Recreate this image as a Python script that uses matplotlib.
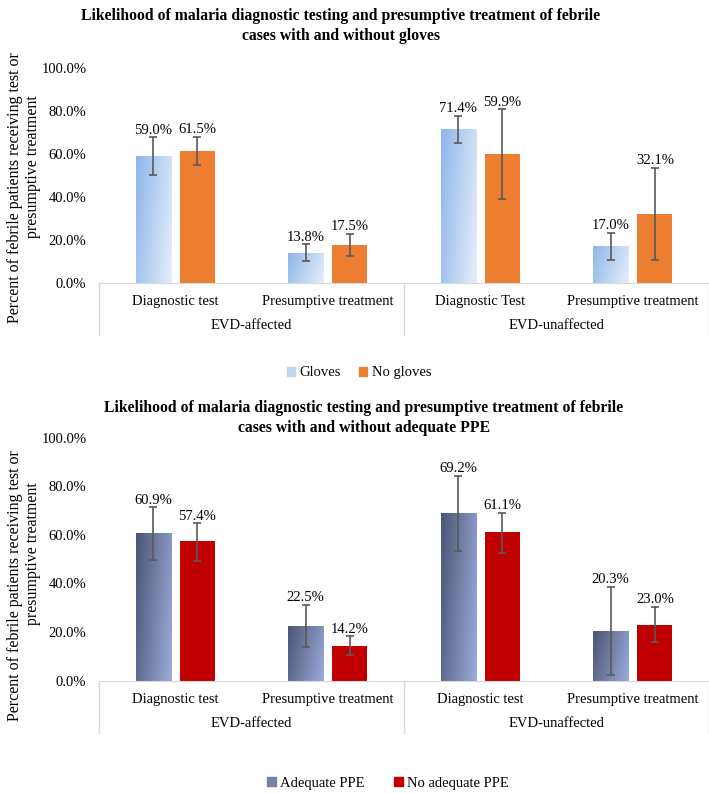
import matplotlib.pyplot as plt
import numpy as np
from matplotlib.colors import to_rgb
from matplotlib.patches import Patch

plt.rcParams['font.family'] = ['Liberation Serif', 'DejaVu Serif']

groups = ["EVD-affected", "EVD-unaffected"]
cats_top = ["Diagnostic test", "Presumptive treatment", "Diagnostic Test", "Presumptive treatment"]
cats_bot = ["Diagnostic test", "Presumptive treatment", "Diagnostic test", "Presumptive treatment"]

gloves = [59.0, 13.8, 71.4, 17.0]
gloves_lo = [50.3, 10.1, 64.9, 10.7]
gloves_hi = [67.7, 17.8, 77.8, 23.3]
no_gloves = [61.5, 17.5, 59.9, 32.1]
no_gloves_lo = [54.8, 12.4, 39.1, 10.7]
no_gloves_hi = [68.0, 22.8, 80.8, 53.5]

ppe = [60.9, 22.5, 69.2, 20.3]
ppe_lo = [49.5, 13.8, 53.5, 2.2]
ppe_hi = [71.3, 31.2, 84.3, 38.5]
no_ppe = [57.4, 14.2, 61.1, 23.0]
no_ppe_lo = [49.4, 10.5, 52.4, 15.8]
no_ppe_hi = [64.7, 18.3, 69.1, 30.4]

W, H = 709, 793
fig = plt.figure(figsize=(W / 100, H / 100), dpi=100)


def gradient(ax, bars, c1, c2):
    c1, c2 = np.array(to_rgb(c1)), np.array(to_rgb(c2))
    xx, yy = np.meshgrid(np.linspace(0, 1, 64), np.linspace(0, 1, 64))
    t = 0.75 * xx + 0.25 * (1 - yy)
    img = c1 * (1 - t[..., None]) + c2 * t[..., None]
    for b in bars:
        x0, y0, w, h = b.get_x(), b.get_y(), b.get_width(), b.get_height()
        im = ax.imshow(img, extent=[x0, x0 + w, y0, y0 + h], origin='lower',
                       aspect='auto', zorder=2)
        im.set_clip_path(b)
        b.set_facecolor('none')


def panel(ax, cats, v1, lo1, hi1, v2, lo2, hi2, c2, grad, axh):
    x = np.arange(len(cats))
    off, bw = 0.145, 0.23
    for xs, v, lo, hi, col in [(x - off, v1, lo1, hi1, None), (x + off, v2, lo2, hi2, c2)]:
        v, lo, hi = np.array(v), np.array(lo), np.array(hi)
        bars = ax.bar(xs, v, bw, color=col if col else 'white', zorder=2)
        if col is None:
            gradient(ax, bars, *grad)
        ax.errorbar(xs, v, yerr=[v - lo, hi - v], fmt='none', ecolor='#595959',
                    elinewidth=1.2, capsize=3, capthick=1.2, zorder=3)
        for xi, vi, hii in zip(xs, v, hi):
            ax.text(xi, hii + 0.3, f"{vi:.1f}%", ha='center', va='bottom', fontsize=10.5)
    ax.set_xlim(-0.5, 3.5)
    ax.set_ylim(0, 100)
    ax.set_yticks(np.arange(0, 101, 20))
    ax.set_yticklabels([f"{t:.1f}%" for t in np.arange(0, 101, 20)])
    ax.set_xticks(x)
    ax.set_xticklabels(cats)
    ax.tick_params(axis='both', length=0, labelsize=10.5)
    ax.tick_params(axis='y', pad=9)
    ax.tick_params(axis='x', pad=9)
    for s in ['top', 'right', 'left']:
        ax.spines[s].set_visible(False)
    ax.spines['bottom'].set_color('#D9D9D9')
    for i, g in enumerate(groups):
        ax.annotate(g, xy=(2 * i + 0.5, 0), xycoords=('data', 'axes fraction'),
                    xytext=(0, -43 * 0.72), textcoords='offset points',
                    ha='center', va='center', fontsize=10.5)
    for xs in [-0.5, 1.5, 3.5]:
        ax.plot([xs, xs], [0, -52 / axh], color='#D9D9D9', lw=1,
                transform=ax.get_xaxis_transform(), clip_on=False)


ax1 = fig.add_axes([99 / W, 1 - 282.6 / H, 610 / W, (282.6 - 68) / H])
panel(ax1, cats_top, gloves, gloves_lo, gloves_hi, no_gloves, no_gloves_lo, no_gloves_hi,
      '#ED7D31', ('#8DB6EA', '#E6EFFA'), 282.6 - 68)

ax2 = fig.add_axes([99 / W, 1 - 680.7 / H, 610 / W, (680.7 - 437.7) / H])
panel(ax2, cats_bot, ppe, ppe_lo, ppe_hi, no_ppe, no_ppe_lo, no_ppe_hi,
      '#C00000', ('#4A5573', '#9CACDB'), 680.7 - 437.7)

fig.text(341 / W, 1 - 26 / H,
         "Likelihood of malaria diagnostic testing and presumptive treatment of febrile\n"
         "cases with and without gloves",
         ha='center', va='center', fontsize=11.3, fontweight='bold', linespacing=1.35)
fig.text(364 / W, 1 - 418 / H,
         "Likelihood of malaria diagnostic testing and presumptive treatment of febrile\n"
         "cases with and without adequate PPE",
         ha='center', va='center', fontsize=11.3, fontweight='bold', linespacing=1.3)

ylab1 = "Percent of febrile patients receiving test or"
ylab2 = "presumptive treatment"
for c1, c2 in [(188, 166.5), (586, 554)]:
    fig.text(15 / W, 1 - c1 / H, ylab1, rotation=90, ha='center', va='center', fontsize=11.5)
    fig.text(33 / W, 1 - c2 / H, ylab2, rotation=90, ha='center', va='center', fontsize=11.5)

fig.legend(handles=[Patch(color='#BDD7EE', label='Gloves'),
                    Patch(color='#ED7D31', label='No gloves')],
           loc='center', bbox_to_anchor=(359 / W, 1 - 373 / H), ncol=2, frameon=False,
           fontsize=10.5, handlelength=0.6, handleheight=0.6, handletextpad=0.3,
           columnspacing=1.2)
fig.legend(handles=[Patch(color='#7783A6', label='Adequate PPE'),
                    Patch(color='#C00000', label='No adequate PPE')],
           loc='center', bbox_to_anchor=(388 / W, 1 - 783 / H), ncol=2, frameon=False,
           fontsize=10.5, handlelength=0.6, handleheight=0.6, handletextpad=0.3,
           columnspacing=2.0)

fig.savefig('out.png', dpi=100)
